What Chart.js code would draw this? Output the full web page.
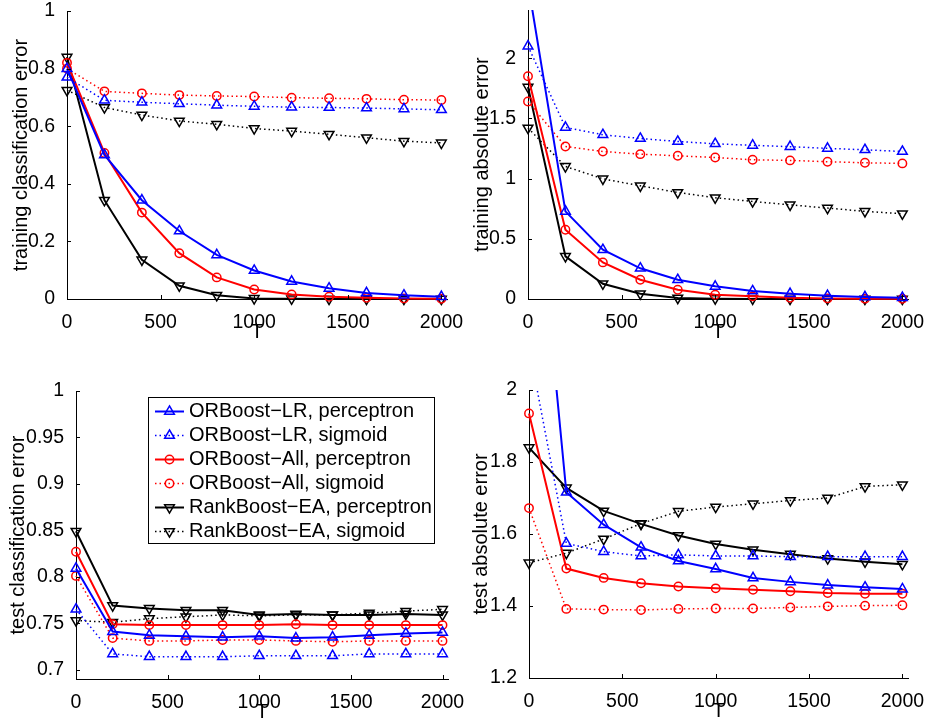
<!DOCTYPE html>
<html>
<head>
<meta charset="utf-8">
<script src="https://cdn.jsdelivr.net/npm/chart.js@4.4.1/dist/chart.umd.min.js"></script>
<style>
  html, body { margin: 0; padding: 0; background: #fff; }
  #page { position: relative; width: 925px; height: 721px; overflow: hidden; }
  #page canvas { position: absolute; }
</style>
</head>
<body>
<div id="page">
  <canvas id="trainCls"></canvas>
  <canvas id="trainAbs"></canvas>
  <canvas id="testCls"></canvas>
  <canvas id="testAbs"></canvas>
</div>
<script>
// x values (number of boosting iterations T) and tick labels
var tValues = [0, 200, 400, 600, 800, 1000, 1200, 1400, 1600, 1800, 2000];
var tTicks = [0, 500, 1000, 1500, 2000];

var seriesNames = [
    'ORBoost−LR, perceptron',
    'ORBoost−LR, sigmoid',
    'ORBoost−All, perceptron',
    'ORBoost−All, sigmoid',
    'RankBoost−EA, perceptron',
    'RankBoost−EA, sigmoid'
];

// training classification error
var trainClsTicks = [0, 0.2, 0.4, 0.6, 0.8, 1];
var trainClsLRPerc = [0.80, 0.50, 0.343, 0.236, 0.153, 0.099, 0.061, 0.037, 0.021, 0.013, 0.008];
var trainClsLRSig = [0.77, 0.69, 0.683, 0.678, 0.673, 0.669, 0.666, 0.665, 0.663, 0.660, 0.657];
var trainClsAllPerc = [0.82, 0.507, 0.30, 0.159, 0.075, 0.033, 0.016, 0.008, 0.004, 0.002, 0.001];
var trainClsAllSig = [0.80, 0.721, 0.714, 0.708, 0.705, 0.703, 0.699, 0.697, 0.695, 0.692, 0.691];
var trainClsRBPerc = [0.84, 0.343, 0.136, 0.046, 0.013, 0.002, 0.001, 0, 0, 0, 0];
var trainClsRBSig = [0.725, 0.665, 0.639, 0.618, 0.607, 0.592, 0.583, 0.572, 0.560, 0.548, 0.542];

// training absolute error
var trainAbsTicks = [0, 0.5, 1, 1.5, 2];
var trainAbsLRPerc = [2.62, 0.728, 0.409, 0.255, 0.160, 0.105, 0.066, 0.044, 0.028, 0.017, 0.011];
var trainAbsLRSig = [2.10, 1.425, 1.364, 1.333, 1.308, 1.289, 1.276, 1.265, 1.251, 1.239, 1.225];
var trainAbsAllPerc = [1.85, 0.575, 0.304, 0.160, 0.077, 0.036, 0.022, 0.010, 0.005, 0.003, 0.002];
var trainAbsAllSig = [1.64, 1.267, 1.225, 1.203, 1.189, 1.175, 1.156, 1.151, 1.140, 1.131, 1.126];
var trainAbsRBPerc = [1.76, 0.354, 0.127, 0.044, 0.008, 0.003, 0.001, 0, 0, 0, 0];
var trainAbsRBSig = [1.42, 1.101, 0.998, 0.940, 0.885, 0.841, 0.810, 0.782, 0.755, 0.728, 0.708];

// test classification error
var testClsTicks = [0.7, 0.75, 0.8, 0.85, 0.9, 0.95, 1];
var testClsLRPerc = [0.809, 0.741, 0.737, 0.736, 0.735, 0.736, 0.734, 0.735, 0.737, 0.739, 0.740];
var testClsLRSig = [0.765, 0.717, 0.714, 0.714, 0.714, 0.715, 0.715, 0.715, 0.717, 0.717, 0.717];
var testClsAllPerc = [0.827, 0.749, 0.748, 0.748, 0.748, 0.748, 0.749, 0.748, 0.748, 0.748, 0.748];
var testClsAllSig = [0.801, 0.734, 0.731, 0.731, 0.732, 0.732, 0.731, 0.730, 0.731, 0.731, 0.731];
var testClsRBPerc = [0.849, 0.769, 0.766, 0.764, 0.764, 0.759, 0.760, 0.759, 0.759, 0.760, 0.759];
var testClsRBSig = [0.753, 0.751, 0.755, 0.757, 0.759, 0.758, 0.759, 0.759, 0.761, 0.763, 0.765];

// test absolute error
var testAbsTicks = [1.2, 1.4, 1.6, 1.8, 2];
var testAbsLRPerc = [2.80, 1.716, 1.626, 1.563, 1.525, 1.503, 1.478, 1.467, 1.458, 1.452, 1.447];
var testAbsLRSig = [2.12, 1.574, 1.551, 1.539, 1.542, 1.539, 1.539, 1.537, 1.537, 1.537, 1.537];
var testAbsAllPerc = [1.935, 1.504, 1.478, 1.463, 1.454, 1.449, 1.445, 1.441, 1.436, 1.434, 1.434];
var testAbsAllSig = [1.672, 1.392, 1.390, 1.389, 1.392, 1.393, 1.393, 1.396, 1.399, 1.401, 1.402];
var testAbsRBPerc = [1.840, 1.728, 1.664, 1.628, 1.596, 1.572, 1.556, 1.544, 1.532, 1.523, 1.516];
var testAbsRBSig = [1.520, 1.547, 1.586, 1.629, 1.663, 1.675, 1.684, 1.693, 1.700, 1.732, 1.737];

var FONT = '"Liberation Sans", Arial, Helvetica, sans-serif';
var dotted = [1.5, 3];

var styles = [
    { color: '#0000ff', dash: [], marker: 'triangle', rot: 0 },
    { color: '#0000ff', dash: dotted, marker: 'triangle', rot: 0 },
    { color: '#ff0000', dash: [], marker: 'circle', rot: 0 },
    { color: '#ff0000', dash: dotted, marker: 'circle', rot: 0 },
    { color: '#000000', dash: [], marker: 'triangle', rot: 180 },
    { color: '#000000', dash: dotted, marker: 'triangle', rot: 180 }
];

function drawMarker(ctx, ds, x, y) {
    var r = ds.pointRadius;
    ctx.save();
    ctx.strokeStyle = ds.pointBorderColor;
    ctx.lineWidth = ds.pointBorderWidth;
    ctx.setLineDash([]);
    ctx.beginPath();
    if (ds.pointStyle === 'circle') {
        ctx.arc(x, y, r, 0, Math.PI * 2);
    } else {
        var rad = ds.pointRotation * Math.PI / 180;
        for (var k = 0; k < 3; k++) {
            var px = x + Math.sin(rad) * r, py = y - Math.cos(rad) * r;
            if (k === 0) ctx.moveTo(px, py); else ctx.lineTo(px, py);
            rad += 2 * Math.PI / 3;
        }
        ctx.closePath();
    }
    ctx.stroke();
    ctx.restore();
}

// matlab style ticks pointing into the plot
var innerTicks = {
    id: 'innerTicks',
    afterDraw: function (chart) {
        var ctx = chart.ctx, a = chart.chartArea;
        var xs = chart.scales.x, ys = chart.scales.y;
        ctx.save();
        ctx.strokeStyle = '#000';
        ctx.lineWidth = 1;
        ctx.beginPath();
        xs.ticks.forEach(function (t) {
            var px = Math.round(xs.getPixelForValue(t.value)) + 0.5;
            ctx.moveTo(px, a.bottom);
            ctx.lineTo(px, a.bottom - 4);
        });
        ys.ticks.forEach(function (t) {
            var py = Math.round(ys.getPixelForValue(t.value)) + 0.5;
            ctx.moveTo(a.left, py);
            ctx.lineTo(a.left + 4, py);
        });
        ctx.stroke();
        ctx.restore();
    }
};

var boxLegend = {
    id: 'boxLegend',
    afterDraw: function (chart, args, opts) {
        if (!opts.show) return;
        var ctx = chart.ctx, a = chart.chartArea;
        var x0 = Math.round(a.left + opts.x), y0 = Math.round(a.top + opts.y);
        ctx.save();
        ctx.fillStyle = '#fff';
        ctx.fillRect(x0, y0, opts.w, opts.h);
        ctx.strokeStyle = '#000';
        ctx.lineWidth = 1;
        ctx.strokeRect(x0 + 0.5, y0 + 0.5, opts.w, opts.h);
        chart.data.datasets.forEach(function (ds, i) {
            var cy = y0 + opts.firstRow + i * opts.rowStep;
            ctx.strokeStyle = ds.borderColor;
            ctx.lineWidth = ds.borderWidth;
            ctx.setLineDash(ds.borderDash);
            ctx.beginPath();
            ctx.moveTo(x0 + opts.lineStart, cy);
            ctx.lineTo(x0 + opts.lineEnd, cy);
            ctx.stroke();
            drawMarker(ctx, ds, x0 + (opts.lineStart + opts.lineEnd) / 2, cy);
            ctx.fillStyle = '#000';
            ctx.font = '20px ' + FONT;
            ctx.textBaseline = 'middle';
            ctx.textAlign = 'left';
            ctx.fillText(ds.label, x0 + opts.textStart, cy);
        });
        ctx.restore();
    }
};

function makePanel(p) {
    var padL = 70, padT = 20, padR = 40, padB = 50;
    var canvas = document.getElementById(p.id);
    canvas.width = p.area.right - p.area.left + padL + padR;
    canvas.height = p.area.bottom - p.area.top + padT + padB;
    canvas.style.left = (p.area.left - padL) + 'px';
    canvas.style.top = (p.area.top - padT) + 'px';

    var datasets = p.series.map(function (vals, i) {
        var s = styles[i];
        return {
            label: seriesNames[i],
            data: vals.map(function (v, j) { return { x: tValues[j], y: v }; }),
            borderColor: s.color,
            borderWidth: s.dash.length ? 1.5 : 2,
            borderDash: s.dash,
            backgroundColor: 'rgba(0,0,0,0)',
            fill: false,
            tension: 0,
            pointStyle: s.marker,
            pointRotation: s.rot,
            pointRadius: s.marker === 'circle' ? 4.2 : 5.6,
            pointBorderWidth: 1.5,
            pointBorderColor: s.color,
            pointBackgroundColor: 'rgba(0,0,0,0)',
            clip: { left: 10, top: 0, right: 10, bottom: 10 }
        };
    });

    return new Chart(canvas, {
        type: 'line',
        data: { datasets: datasets },
        options: {
            responsive: false,
            animation: false,
            devicePixelRatio: 1,
            layout: { padding: { left: 0, top: padT, right: padR, bottom: 0 } },
            plugins: {
                legend: { display: false },
                tooltip: { enabled: false },
                boxLegend: p.legend || { show: false }
            },
            scales: {
                x: {
                    type: 'linear',
                    min: 0,
                    max: 2030,
                    grid: { display: false },
                    border: { display: true, color: '#000', width: 1 },
                    ticks: {
                        autoSkip: false,
                        maxRotation: 0,
                        padding: 4,
                        color: '#000',
                        font: { family: FONT, size: 19.5 },
                        callback: function (v) { return String(v); }
                    },
                    afterBuildTicks: function (s) {
                        s.ticks = tTicks.map(function (v) { return { value: v }; });
                    },
                    afterFit: function (s) { s.height = padB; },
                    title: {
                        display: true,
                        text: 'T',
                        color: '#000',
                        font: { family: FONT, size: 20 },
                        padding: { top: 0, bottom: 5 }
                    }
                },
                y: {
                    type: 'linear',
                    min: p.yMin,
                    max: p.yMax,
                    grid: { display: false },
                    border: { display: true, color: '#000', width: 1 },
                    ticks: {
                        padding: 4,
                        color: '#000',
                        font: { family: FONT, size: 19.5 },
                        callback: function (v) { return String(v); }
                    },
                    afterBuildTicks: function (s) {
                        s.ticks = p.yTicks.map(function (v) { return { value: v }; });
                    },
                    afterFit: function (s) { s.width = padL; },
                    title: {
                        display: true,
                        text: p.yTitle,
                        color: '#000',
                        font: { family: FONT, size: 20 },
                        padding: { top: padL - p.titleOffset - 12, bottom: 0 }
                    }
                }
            }
        },
        plugins: [innerTicks, boxLegend]
    });
}

makePanel({
    id: 'trainCls',
    area: { left: 67, top: 11, right: 447, bottom: 299 },
    yMin: 0, yMax: 1, yTicks: trainClsTicks,
    yTitle: 'training classification error', titleOffset: 46,
    series: [trainClsLRPerc, trainClsLRSig, trainClsAllPerc, trainClsAllSig, trainClsRBPerc, trainClsRBSig]
});

makePanel({
    id: 'trainAbs',
    area: { left: 528, top: 10, right: 908, bottom: 299 },
    yMin: 0, yMax: 2.4, yTicks: trainAbsTicks,
    yTitle: 'training absolute error', titleOffset: 46,
    series: [trainAbsLRPerc, trainAbsLRSig, trainAbsAllPerc, trainAbsAllSig, trainAbsRBPerc, trainAbsRBSig]
});

makePanel({
    id: 'testCls',
    area: { left: 76, top: 391, right: 448, bottom: 679 },
    yMin: 0.69, yMax: 1, yTicks: testClsTicks,
    yTitle: 'test classification error', titleOffset: 57.5,
    series: [testClsLRPerc, testClsLRSig, testClsAllPerc, testClsAllSig, testClsRBPerc, testClsRBSig],
    legend: { show: true, x: 72, y: 6, w: 286, h: 146, firstRow: 14.5, rowStep: 24, lineStart: 7, lineEnd: 36, textStart: 41 }
});

makePanel({
    id: 'testAbs',
    area: { left: 529, top: 390, right: 908, bottom: 678 },
    yMin: 1.2, yMax: 2, yTicks: testAbsTicks,
    yTitle: 'test absolute error', titleOffset: 48,
    series: [testAbsLRPerc, testAbsLRSig, testAbsAllPerc, testAbsAllSig, testAbsRBPerc, testAbsRBSig]
});
</script>
</body>
</html>
